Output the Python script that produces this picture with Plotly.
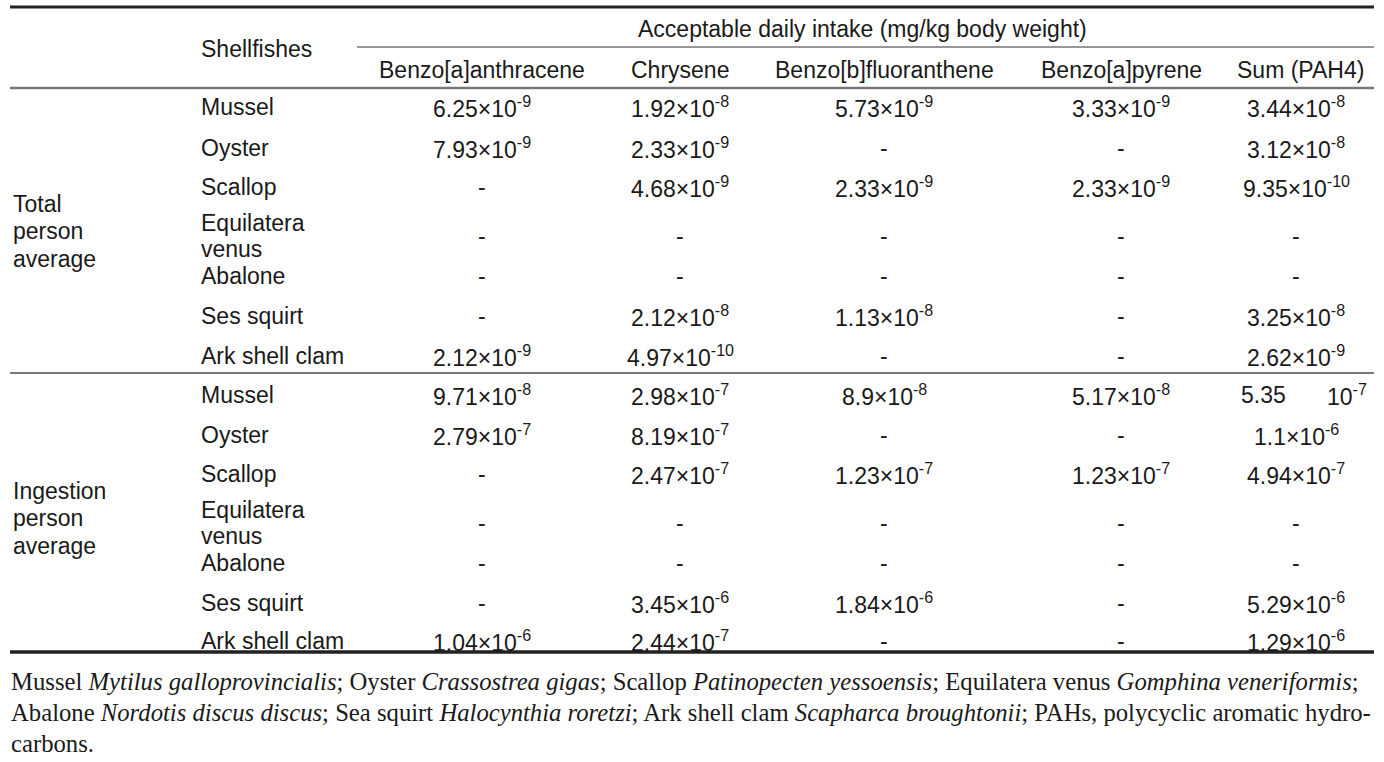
import plotly.graph_objects as go

# ---------------- data ----------------
columns = ["Benzo[a]anthracene", "Chrysene", "Benzo[b]fluoranthene", "Benzo[a]pyrene", "Sum (PAH4)"]
header_group = "Acceptable daily intake (mg/kg body weight)"
stub_header = "Shellfishes"
groups = ["Total<br>person<br>average", "Ingestion<br>person<br>average"]
shellfishes = ["Mussel", "Oyster", "Scallop", "Equilatera<br>venus", "Abalone", "Ses squirt", "Ark shell clam"]

# values as (mantissa, exponent); None = "-"
baa_total = [("6.25", -9), ("7.93", -9), None, None, None, None, ("2.12", -9)]
chr_total = [("1.92", -8), ("2.33", -9), ("4.68", -9), None, None, ("2.12", -8), ("4.97", -10)]
bbf_total = [("5.73", -9), None, ("2.33", -9), None, None, ("1.13", -8), None]
bap_total = [("3.33", -9), None, ("2.33", -9), None, None, None, None]
sum_total = [("3.44", -8), ("3.12", -8), ("9.35", -10), None, None, ("3.25", -8), ("2.62", -9)]

baa_ing = [("9.71", -8), ("2.79", -7), None, None, None, None, ("1.04", -6)]
chr_ing = [("2.98", -7), ("8.19", -7), ("2.47", -7), None, None, ("3.45", -6), ("2.44", -7)]
bbf_ing = [("8.9", -8), None, ("1.23", -7), None, None, ("1.84", -6), None]
bap_ing = [("5.17", -8), None, ("1.23", -7), None, None, None, None]
sum_ing = [("5.35", -7), ("1.1", -6), ("4.94", -7), None, None, ("5.29", -6), ("1.29", -6)]

footnote_lines = [
    "Mussel <i>Mytilus galloprovincialis</i>; Oyster <i>Crassostrea gigas</i>; Scallop <i>Patinopecten yessoensis</i>; "
    "Equilatera venus <i>Gomphina veneriformis</i>;",
    "Abalone <i>Nordotis discus discus</i>; Sea squirt <i>Halocynthia roretzi</i>; Ark shell clam "
    "<i>Scapharca broughtonii</i>; PAHs, polycyclic aromatic hydro-",
    "carbons.",
]

# ---------------- layout constants ----------------
W, H = 1384, 762
SANS = "Liberation Sans, Arial, sans-serif"
SERIF = "Liberation Serif, Times New Roman, serif"
FS = 23
col_x = [482, 680, 884, 1121, 1296]
stub_x = 200
group_x = 12
row_y = [[107, 148, 187, 236, 276, 316, 356], [395, 435, 474, 523, 563, 603, 641]]
group_y = [231, 518]
group_lh = 27.5
stub_lh = 26

group_data = [
    [baa_total, chr_total, bbf_total, bap_total, sum_total],
    [baa_ing, chr_ing, bbf_ing, bap_ing, sum_ing],
]


def fmt(v):
    if v is None:
        return "-"
    m, e = v
    return f"{m}×10<sup>{e}</sup>"


ann = []


def add(text, x, y, anchor="center", font=SANS, size=FS):
    ann.append(dict(text=text, x=x, y=y, xref="x", yref="y", xanchor=anchor, yanchor="middle",
                    showarrow=False, align="left", borderpad=0,
                    font=dict(family=font, size=size, color="#1a1a1a")))


def add_lines(text, x, yc, lh, anchor="left"):
    parts = text.split("<br>")
    n = len(parts)
    for i, p in enumerate(parts):
        add(p, x, yc + (i - (n - 1) / 2) * lh, anchor)


# headers
add(stub_header, stub_x, 49, "left")
add(header_group, 862, 29)
for cx, name in zip(col_x, columns):
    add(name, cx if name != "Sum (PAH4)" else 1300, 70)

for gi in range(2):
    add_lines(groups[gi], group_x, group_y[gi], group_lh)
    for ri, sf in enumerate(shellfishes):
        y = row_y[gi][ri]
        add_lines(sf, stub_x, y, stub_lh)
        for ci, series in enumerate(group_data[gi]):
            v = series[ri]
            if gi == 1 and ci == 4 and ri == 0:
                # misprinted cell in original: mantissa and power separated
                add(v[0], 1240, y, "left")
                add(f"10<sup>{v[1]}</sup>", 1368, y, "right")
            else:
                add(fmt(v), col_x[ci], y)

foot_y = [681, 712, 743]
for t, y in zip(footnote_lines, foot_y):
    add(t, 10, y, "left", SERIF, 24.7)

shapes = [
    dict(type="line", x0=10, x1=1374, y0=7, y1=7, line=dict(color="#222", width=3)),
    dict(type="line", x0=357, x1=1374, y0=47, y1=47, line=dict(color="#333", width=1.2)),
    dict(type="line", x0=10, x1=1374, y0=88, y1=88, line=dict(color="#777", width=2.5)),
    dict(type="line", x0=10, x1=1374, y0=373, y1=373, line=dict(color="#777", width=2)),
    dict(type="line", x0=10, x1=1374, y0=652, y1=652, line=dict(color="#222", width=3.5)),
]
for s in shapes:
    s.update(xref="x", yref="y")

fig = go.Figure()
fig.update_layout(
    width=W, height=H, margin=dict(l=0, r=0, t=0, b=0),
    paper_bgcolor="white", plot_bgcolor="white",
    xaxis=dict(range=[0, W], visible=False, fixedrange=True),
    yaxis=dict(range=[H, 0], visible=False, fixedrange=True),
    annotations=ann, shapes=shapes, showlegend=False,
)
fig.write_html(
    "out.html",
    config={"displayModeBar": False},
    post_script="document.body.style.margin='0';document.body.style.overflow='hidden';",
)
